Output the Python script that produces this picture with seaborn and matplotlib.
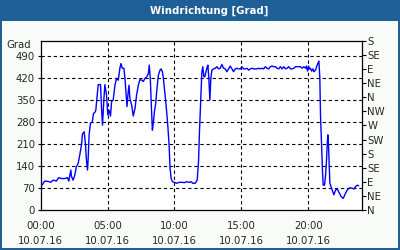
import matplotlib
matplotlib.use("Agg")
import matplotlib.pyplot as plt
import seaborn as sns
import pandas as pd
from matplotlib.patches import Rectangle

hours = [0.00, 0.10, 0.30, 0.55, 0.75, 0.92, 1.17, 1.35, 1.55, 1.80, 2.00, 2.10, 2.25, 2.30, 2.42,
         2.55, 2.67, 2.80, 2.92, 3.05, 3.12, 3.25, 3.35, 3.42, 3.50, 3.55, 3.62, 3.72, 3.85, 3.95,
         4.07, 4.12, 4.30, 4.47, 4.55, 4.62, 4.72, 4.80, 4.92, 5.02, 5.12, 5.22, 5.30, 5.42, 5.55,
         5.67, 5.80, 5.92, 6.00, 6.10, 6.22, 6.30, 6.37, 6.45, 6.52, 6.60, 6.67, 6.80, 6.92, 7.05,
         7.17, 7.30, 7.42, 7.55, 7.67, 7.80, 7.92, 8.05, 8.12, 8.20, 8.27, 8.35, 8.42, 8.50, 8.60,
         8.67, 8.80, 8.92, 9.00, 9.10, 9.17, 9.30, 9.42, 9.50, 9.60, 9.67, 9.75, 9.85, 10.00, 10.17,
         10.35, 10.55, 10.75, 10.92, 11.10, 11.25, 11.37, 11.55, 11.70, 11.80, 11.87, 11.97, 12.05,
         12.12, 12.20, 12.27, 12.42, 12.50, 12.57, 12.65, 12.72, 12.80, 12.92, 13.05, 13.17, 13.30,
         13.42, 13.55, 13.67, 13.80, 13.92, 14.05, 14.17, 14.30, 14.42, 14.55, 14.67, 14.80, 14.92,
         15.05, 15.17, 15.30, 15.42, 15.55, 15.67, 15.80, 15.92, 16.05, 16.17, 16.30, 16.42, 16.55,
         16.67, 16.80, 16.92, 17.05, 17.17, 17.30, 17.42, 17.55, 17.67, 17.80, 17.92, 18.05, 18.17,
         18.30, 18.42, 18.55, 18.67, 18.80, 18.92, 19.05, 19.17, 19.30, 19.42, 19.55, 19.67, 19.80,
         19.87, 19.95, 20.02, 20.10, 20.17, 20.25, 20.35, 20.42, 20.55, 20.67, 20.80, 20.87, 20.92,
         21.00, 21.07, 21.12, 21.22, 21.30, 21.37, 21.42, 21.47, 21.52, 21.57, 21.62, 21.67, 21.80,
         21.92, 22.05, 22.17, 22.30, 22.47, 22.62, 22.80, 22.92, 23.12, 23.30, 23.43, 23.55, 23.68,
         23.78]
direction = [86, 80, 93, 92, 89, 96, 93, 104, 101, 101, 104, 93, 128, 108, 96,
             112, 139, 149, 176, 208, 242, 250, 208, 160, 128, 165, 240, 277, 280, 308,
             313, 318, 400, 400, 324, 271, 351, 400, 367, 303, 318, 300, 346, 351, 398,
             420, 414, 452, 467, 452, 452, 420, 377, 330, 367, 398, 356, 335, 300, 324,
             367, 398, 416, 414, 410, 420, 424, 435, 462, 414, 335, 255, 277, 313, 340,
             377, 430, 446, 450, 441, 420, 367, 313, 271, 208, 134, 102, 91, 89, 86,
             89, 89, 88, 91, 89, 91, 86, 86, 96, 155, 250, 356, 441,
             457, 425, 425, 452, 462, 420, 351, 420, 446, 450, 452, 457, 450,
             452, 464, 452, 450, 441, 450, 459, 450, 441, 450, 452, 450, 450,
             457, 450, 450, 452, 446, 450, 452, 450, 450, 450, 452, 450, 452,
             450, 457, 452, 450, 457, 459, 457, 457, 452, 450, 457, 450, 457,
             450, 452, 457, 450, 450, 452, 457, 457, 457, 457, 452, 457, 452,
             459, 443, 459, 450, 452, 443, 450, 441, 446, 462, 475, 420, 303,
             208, 123, 80, 80, 112, 160, 208, 240, 208, 144, 86, 80, 65,
             49, 65, 68, 57, 43, 38, 55, 65, 72, 70, 68, 76, 80,
             78]

y_ticks = [0, 70, 140, 210, 280, 350, 420, 490]
compass_ticks = [0, 45, 90, 135, 180, 225, 270, 315, 360, 405, 450, 495, 540]
compass_labels = ["N", "NE", "E", "SE", "S", "SW", "W", "NW", "N", "NE", "E", "SE", "S"]
x_ticks = [0, 5, 10, 15, 20]
x_labels = ["00:00\n10.07.16", "05:00\n10.07.16", "10:00\n10.07.16", "15:00\n10.07.16", "20:00\n10.07.16"]
title = "Windrichtung [Grad]"

sns.set_style("white")
plt.rcParams["font.family"] = ["DejaVu Sans"]

fig = plt.figure(figsize=(4, 2.5), dpi=100)
fig.patch.set_facecolor("#1d5f96")
fig.patches.append(Rectangle((2 / 400, 2 / 250), 396 / 400, 227 / 250,
                             transform=fig.transFigure, facecolor="#f8fbf8",
                             edgecolor="none", zorder=-10))
fig.text(209 / 400, 1 - 10.5 / 250, title, color="white", fontsize=7.3, fontweight="bold",
         ha="center", va="center")

ax = fig.add_axes([40.7 / 400, 1 - 210.3 / 250, 321 / 400, 169.7 / 250])
ax.set_zorder(5)
ax.set_facecolor("white")
df = pd.DataFrame({"h": hours, "deg": direction})
sns.lineplot(data=df, x="h", y="deg", ax=ax, color="#0000ff", linewidth=1.0,
             estimator=None, sort=False, zorder=3)

ax.set_xlim(0, 24)
ax.set_ylim(0, 540)
ax.set_xlabel("")
ax.set_ylabel("")
ax.set_yticks(y_ticks)
ax.set_yticklabels([str(v) for v in y_ticks], fontsize=7.3)
ax.set_xticks(x_ticks)
ax.set_xticklabels(x_labels, fontsize=7.3, linespacing=1.6)
ax.set_xticks(range(0, 25), minor=True)
ax.tick_params(axis="x", which="both", direction="out", length=3, width=0.8, color="black", pad=5)
ax.tick_params(axis="y", direction="out", length=2, width=0.8, color="black", pad=2)

for v in y_ticks[1:]:
    ax.axhline(v, color="black", linestyle=(0, (3, 2.5)), linewidth=0.8, zorder=1)
for v in x_ticks[1:]:
    ax.axvline(v, color="black", linestyle=(0, (3, 2.5)), linewidth=0.8, zorder=1)

for s in ax.spines.values():
    s.set_color("black")
    s.set_linewidth(0.9)

ax.text(-0.03, 525, "Grad", transform=ax.get_yaxis_transform(), fontsize=7.3,
        ha="right", va="center")

ax2 = ax.twinx()
ax2.set_zorder(6)
ax2.patch.set_visible(False)
ax2.set_ylim(0, 540)
ax2.set_yticks(compass_ticks)
ax2.set_yticklabels(compass_labels, fontsize=7.3)
ax2.tick_params(axis="y", direction="out", length=3, width=0.8, color="black", pad=1)
for s in ax2.spines.values():
    s.set_visible(False)

fig.savefig("out.png", dpi=100, facecolor=fig.get_facecolor())
